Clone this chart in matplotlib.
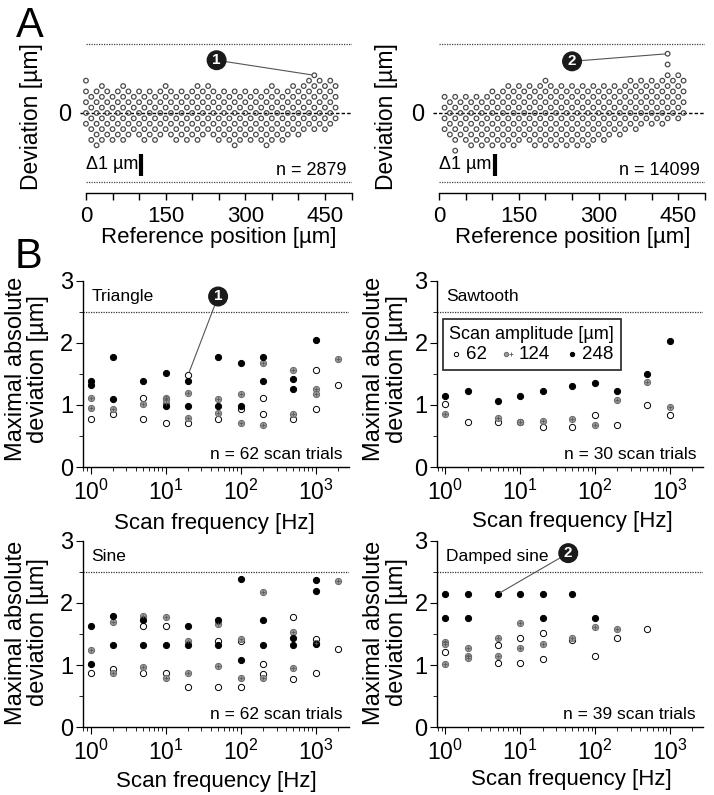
import numpy as np
import matplotlib
matplotlib.use("Agg")
import matplotlib.pyplot as plt
from matplotlib.legend_handler import HandlerTuple
from matplotlib.ticker import FixedLocator, LogLocator, LogFormatterMathtext, NullFormatter

plt.rcParams['font.family'] = ['Liberation Sans', 'DejaVu Sans']
plt.rcParams['mathtext.fontset'] = 'custom'
plt.rcParams['mathtext.rm'] = 'Liberation Sans'
plt.rcParams['mathtext.it'] = 'Liberation Sans:italic'
plt.rcParams['mathtext.bf'] = 'Liberation Sans:bold'
plt.rcParams['axes.linewidth'] = 1.0

W, H = 714, 795

# ── panel A: deviation vs reference position (lattice rows, 1 row = PITCH µm) ──
PITCH = 0.245
posA1 = list(range(0, 480, 10))
topA1 = [6, 3, 4, 5, 4, 3, 4, 5, 4, 3, 4, 3, 4, 3, 4, 5, 4, 3, 4, 3, 4, 5, 4, 5,
         4, 3, 4, 3, 4, 3, 4, 3, 4, 3, 4, 5, 4, 3, 4, 5, 4, 5, 6, 7, 6, 5, 6, 5]
botA1 = [-2, -5, -6, -5, -4, -5, -4, -5, -4, -3, -4, -5, -4, -5, -4, -3, -4, -5, -4, -5,
         -4, -5, -4, -3, -4, -5, -4, -5, -6, -5, -4, -5, -4, -5, -6, -5, -4, -5, -4, -3,
         -4, -3, -2, -3, -2, -3, -2, -1]
posA2 = list(range(10, 470, 10))
topA2 = [3, 2, 3, 2, 3, 2, 3, 2, 3, 4, 3, 4, 5, 4, 5, 4, 5, 4, 5, 6, 5, 4, 5,
         4, 5, 4, 5, 4, 5, 4, 5, 4, 5, 4, 5, 6, 5, 6, 5, 6, 5, 6, 11, 6, 7, 6]
botA2 = [-3, -4, -7, -4, -5, -6, -5, -6, -5, -6, -5, -6, -5, -6, -5, -4, -5, -6, -5, -6,
         -5, -6, -5, -6, -5, -6, -5, -6, -5, -4, -5, -4, -3, -4, -3, -2, -3, -2, -1, -2,
         -1, -2, -1, 0, -1, 0]

# ── panel B: maximal absolute deviation vs scan frequency ──
tri_f62 = [1, 2, 5, 5, 10, 20, 20, 50, 100, 200, 200, 500, 1000, 1000, 2000]
tri_v62 = [0.78, 0.85, 1.12, 0.78, 0.71, 1.49, 0.71, 0.78, 0.93, 1.12, 0.85, 0.78, 1.57, 0.93, 1.33]
tri_f124 = [1, 1, 2, 5, 10, 10, 10, 20, 20, 50, 50, 100, 100, 200, 200, 500, 500, 1000, 1000, 2000]
tri_v124 = [1.12, 0.95, 0.94, 1.02, 1.12, 1.1, 1.03, 1.19, 0.79, 1.1, 0.87, 1.17, 0.71, 1.67, 0.67,
            1.57, 0.85, 1.26, 1.17, 1.74]
tri_f248 = [1, 1, 2, 2, 5, 10, 10, 20, 20, 50, 50, 100, 100, 200, 200, 500, 500, 1000]
tri_v248 = [1.38, 1.33, 1.77, 1.1, 1.38, 1.52, 0.99, 1.38, 0.98, 1.77, 0.98, 1.67, 0.98, 1.77, 1.38,
            1.42, 1.25, 2.05]

saw_f62 = [1, 2, 5, 10, 20, 50, 100, 200, 500, 1000]
saw_v62 = [1.01, 0.72, 0.72, 0.72, 0.65, 0.65, 0.84, 0.68, 1.0, 0.84]
saw_f124 = [1, 5, 10, 20, 50, 100, 200, 500, 1000]
saw_v124 = [0.86, 0.79, 0.72, 0.75, 0.77, 0.68, 1.08, 1.37, 0.96]
saw_f248 = [1, 2, 5, 10, 20, 50, 100, 200, 500, 1000]
saw_v248 = [1.15, 1.22, 1.06, 1.15, 1.22, 1.31, 1.36, 1.22, 1.5, 2.03]

sin_f62 = [1, 2, 5, 5, 10, 10, 20, 50, 50, 100, 100, 200, 200, 500, 500, 1000, 1000, 2000]
sin_v62 = [0.87, 0.94, 1.63, 0.87, 1.63, 0.87, 0.64, 1.39, 0.64, 1.39, 0.64, 1.01, 0.85, 1.78, 0.78,
           1.42, 0.87, 1.26]
sin_f124 = [1, 2, 2, 5, 5, 10, 10, 20, 20, 50, 50, 100, 100, 200, 200, 500, 500, 1000, 2000]
sin_v124 = [1.24, 1.7, 0.87, 1.79, 0.97, 1.78, 0.8, 1.39, 0.87, 1.66, 0.99, 1.42, 0.8, 2.17, 0.8,
            1.53, 0.96, 1.35, 2.36]
sin_f248 = [1, 1, 2, 2, 5, 5, 10, 20, 20, 50, 50, 100, 100, 200, 200, 500, 500, 1000, 1000, 1000]
sin_v248 = [1.63, 1.02, 1.79, 1.32, 1.72, 1.32, 1.32, 1.63, 1.32, 1.72, 1.32, 2.38, 1.08, 1.72, 1.32,
            1.44, 1.32, 2.37, 2.19, 1.34]

dmp_f62 = [1, 5, 5, 10, 10, 20, 20, 50, 100, 200, 500]
dmp_v62 = [1.21, 1.32, 1.04, 1.43, 1.04, 1.51, 1.1, 1.4, 1.14, 1.43, 1.58]
dmp_f124 = [1, 1, 1, 2, 2, 2, 5, 5, 10, 10, 20, 50, 100, 200]
dmp_v124 = [1.37, 1.34, 1.02, 1.28, 1.14, 1.12, 1.43, 1.14, 1.67, 1.28, 1.34, 1.43, 1.62, 1.58]
dmp_f248 = [1, 1, 2, 2, 5, 10, 20, 20, 50, 100]
dmp_v248 = [2.14, 1.75, 2.14, 1.75, 2.14, 2.14, 2.14, 1.75, 2.14, 1.75]

amp_labels = ["62", "124", "248"]


def px_axes(l, t, r, b):
    return [l / W, 1 - b / H, (r - l) / W, (b - t) / H]


fig = plt.figure(figsize=(W / 100, H / 100), dpi=100)


def callout(ax, num, xy, xytext):
    ax.annotate(num, xy=xy, xytext=xytext, fontsize=11, fontweight="bold", color="white",
                ha="center", va="center", zorder=6,
                bbox=dict(boxstyle="circle,pad=0.15", fc="#1a1a1a", ec="#1a1a1a"),
                arrowprops=dict(arrowstyle="-", color="#555555", lw=0.8,
                                shrinkA=0, shrinkB=2))


# ── panel A ──
def draw_a(rect, pos, top, bot, ntext):
    ax = fig.add_axes(rect)
    xs, ys = [], []
    for p, t, b in zip(pos, top, bot):
        for k in range(b, t + 1, 2):
            xs.append(p)
            ys.append(k * PITCH)
    ax.scatter(xs, ys, s=11, facecolors="none", edgecolors="#4a4a4a", linewidths=0.9, zorder=3)
    ax.set_xlim(-12, 500)
    ax.set_ylim(-3.64, 3.32)
    ax.axhline(0, color="black", lw=1.0, ls=(0, (2.5, 1.5)), zorder=2)
    for yl in (3.16, -3.16):
        ax.plot([0, 500], [yl, yl], color="#444444", lw=0.9, ls=(0, (1, 1)))
    for s in ("top", "right", "left"):
        ax.spines[s].set_visible(False)
    ax.spines["bottom"].set_bounds(0, 500)
    ax.set_xticks(range(0, 501, 50))
    ax.set_xticklabels([str(v) if v % 150 == 0 else "" for v in range(0, 501, 50)])
    ax.tick_params(axis="x", length=5, width=1, labelsize=16, pad=4)
    ax.set_yticks([0])
    ax.set_yticklabels(["0"])
    ax.tick_params(axis="y", length=0, labelsize=17, pad=6)
    ax.text(0, -2.36, "Δ1 µm", fontsize=13, ha="left", va="center")
    ax.plot([104, 104], [-1.85, -2.85], color="black", lw=3, solid_capstyle="butt")
    ax.text(490, -2.6, ntext, fontsize=13, ha="right", va="center")
    return ax


axA1 = draw_a(px_axes(79.6, 40, 351.5, 193), posA1, topA1, botA1, "n = 2879")
axA2 = draw_a(px_axes(432.9, 40, 704.8, 193), posA2, topA2, botA2, "n = 14099")
callout(axA1, "1", (430, 7 * PITCH), (246, 2.4))
callout(axA2, "2", (430, 11 * PITCH), (250, 2.35))

for xc, lbl in ((32, "Deviation [µm]"), (386, "Deviation [µm]")):
    fig.text(xc / W, 1 - 117 / H, lbl, rotation=90, ha="center", va="center", fontsize=16.5)
for xc in (219, 573):
    fig.text(xc / W, 1 - 237 / H, "Reference position [µm]", ha="center", va="center", fontsize=16)

fig.text(16 / W, 1 - 37 / H, "A", fontsize=30, ha="left", va="baseline")
fig.text(15 / W, 1 - 268 / H, "B", fontsize=30, ha="left", va="baseline")


# ── panel B ──
def draw_b(rect, data, name, ntext):
    ax = fig.add_axes(rect)
    (f1, v1), (f2, v2), (f3, v3) = data
    h1 = ax.scatter(f1, v1, s=20, facecolors="white", edgecolors="black", linewidths=0.7, zorder=3)
    h2 = ax.scatter(f2, v2, s=20, facecolors="#9a9a9a", edgecolors="#6a6a6a", linewidths=0.7, zorder=3)
    h2b = ax.scatter(f2, v2, s=12, marker="+", color="#5a5a5a", linewidths=0.6, zorder=4)
    h3 = ax.scatter(f3, v3, s=20, facecolors="black", edgecolors="black", linewidths=0.7, zorder=3)
    ax.set_xscale("log")
    ax.set_xlim(10 ** -0.105, 10 ** 3.443)
    ax.xaxis.set_major_locator(FixedLocator([1, 10, 100, 1000]))
    ax.xaxis.set_major_formatter(LogFormatterMathtext())
    ax.xaxis.set_minor_locator(LogLocator(base=10, subs=np.arange(2, 10), numticks=20))
    ax.xaxis.set_minor_formatter(NullFormatter())
    ax.set_ylim(0, 3)
    ax.set_yticks([0, 1, 2, 3])
    ax.set_yticks([0.5, 1.5, 2.5], minor=True)
    ax.axhline(2.5, color="#333333", lw=0.9, ls=(0, (1, 1)))
    for s in ("top", "right"):
        ax.spines[s].set_visible(False)
    ax.tick_params(axis="y", which="major", length=5, labelsize=17, pad=2)
    ax.tick_params(axis="y", which="minor", length=3)
    ax.tick_params(axis="x", which="major", length=5, labelsize=16.5, pad=4)
    ax.tick_params(axis="x", which="minor", length=3)
    ax.text(0.033, 2.75, name, transform=ax.get_yaxis_transform(), fontsize=12.5,
            ha="left", va="center")
    ax.text(0.974, 0.2, ntext, transform=ax.get_yaxis_transform(), fontsize=12.5,
            ha="right", va="center")
    return ax, (h1, (h2, h2b), h3)


axB1, handles = draw_b(px_axes(82.7, 281, 349, 467),
                       [(tri_f62, tri_v62), (tri_f124, tri_v124), (tri_f248, tri_v248)],
                       "Triangle", "n = 62 scan trials")
axB2, _ = draw_b(px_axes(437.3, 281, 703, 467),
                 [(saw_f62, saw_v62), (saw_f124, saw_v124), (saw_f248, saw_v248)],
                 "Sawtooth", "n = 30 scan trials")
axB3, _ = draw_b(px_axes(82.7, 540.7, 349, 727.3),
                 [(sin_f62, sin_v62), (sin_f124, sin_v124), (sin_f248, sin_v248)],
                 "Sine", "n = 62 scan trials")
axB4, _ = draw_b(px_axes(437.3, 540.7, 703, 727.3),
                 [(dmp_f62, dmp_v62), (dmp_f124, dmp_v124), (dmp_f248, dmp_v248)],
                 "Damped sine", "n = 39 scan trials")

callout(axB1, "1", (20, 1.49), (50, 2.75))
callout(axB4, "2", (5, 2.14), (44, 2.8))

leg = axB2.legend(list(handles), amp_labels, title="Scan amplitude [µm]", ncol=3,
                  loc="upper left", bbox_to_anchor=(0.021, 0.796), borderaxespad=0,
                  fontsize=13.5, title_fontsize=13, frameon=True, fancybox=False,
                  borderpad=0.35, labelspacing=0.2, handlelength=0.6, handletextpad=0.25,
                  columnspacing=0.85, markerscale=0.7,
                  handler_map={tuple: HandlerTuple(ndivide=None, pad=0)})
leg.get_frame().set_edgecolor("black")
leg.get_frame().set_linewidth(1.3)

for xc, yc in ((27, 369), (385.5, 369), (27, 632.5), (385.5, 632.5)):
    fig.text(xc / W, 1 - yc / H, "Maximal absolute\ndeviation [µm]", rotation=90,
             ha="center", va="center", fontsize=17, linespacing=1.0)
for xc, yc in ((214, 523), (572, 522), (216, 782), (571, 780)):
    fig.text(xc / W, 1 - yc / H, "Scan frequency [Hz]", ha="center", va="center", fontsize=16)

fig.savefig("out.png", dpi=100)
